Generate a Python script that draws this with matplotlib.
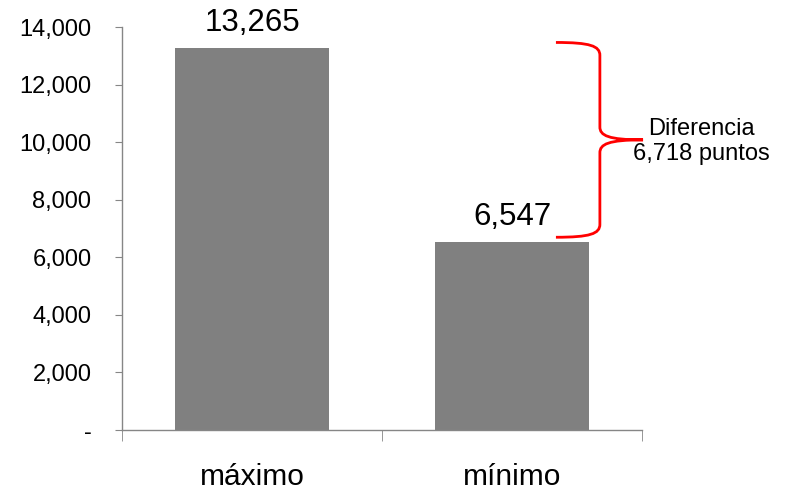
import matplotlib.pyplot as plt
from matplotlib.path import Path
from matplotlib.patches import PathPatch
from matplotlib.ticker import FuncFormatter

plt.rcParams['font.family'] = ['Liberation Sans', 'DejaVu Sans']

categories = ['máximo', 'mínimo']
values = [13265, 6547]
diff_label = 'Diferencia\n6,718 puntos'

fig = plt.figure(figsize=(7.86, 4.92), dpi=100)
ax = fig.add_axes([0.1552, 0.126, 0.6616, 0.819])

x = list(range(len(categories)))
bars = ax.bar(x, values, width=0.59, color='#808080', zorder=2)

ax.set_xlim(-0.5, 1.5)
ax.set_ylim(0, 14000)
ax.set_yticks(range(0, 14001, 2000))
ax.yaxis.set_major_formatter(FuncFormatter(lambda v, p: '-' if v == 0 else f'{int(v):,}'))
ax.tick_params(axis='y', labelsize=17, length=5, color='#868686', pad=17)

ax.set_xticks(x)
ax.set_xticklabels(categories, fontsize=21.5)
ax.tick_params(axis='x', which='major', length=0, pad=24)
ax.set_xticks([-0.5, 0.5, 1.5], minor=True)
ax.tick_params(axis='x', which='minor', length=8, color='#868686')

for s in ['top', 'right']:
    ax.spines[s].set_visible(False)
for s in ['left', 'bottom']:
    ax.spines[s].set_color('#868686')
    ax.spines[s].set_linewidth(1.0)

for b, v in zip(bars, values):
    ax.annotate(f'{v:,}', (b.get_x() + b.get_width() / 2, v), xytext=(0, 7),
                textcoords='offset points', ha='center', va='bottom', fontsize=22.5)

# curly brace between the two bar tops
hi, lo = values[0] + 200, values[1] + 150
mid = (hi + lo) / 2
x0, xv, xt = 1.169, 1.338, 1.504
c = 450
verts = [(x0, hi), (1.30, hi), (xv, hi - 120), (xv, hi - c),
         (xv, mid + c),
         (xv, mid + 150), (1.37, mid), (xt, mid),
         (1.37, mid), (xv, mid - 150), (xv, mid - c),
         (xv, lo + c),
         (xv, lo + 120), (1.30, lo), (x0, lo)]
codes = [Path.MOVETO, Path.CURVE4, Path.CURVE4, Path.CURVE4,
         Path.LINETO,
         Path.CURVE4, Path.CURVE4, Path.CURVE4,
         Path.CURVE4, Path.CURVE4, Path.CURVE4,
         Path.LINETO,
         Path.CURVE4, Path.CURVE4, Path.CURVE4]
ax.add_patch(PathPatch(Path(verts, codes), fill=False, edgecolor='#ff0000',
                       linewidth=2, clip_on=False, zorder=3))
ax.text(1.73, mid - 50, diff_label, ha='center', va='center', fontsize=17,
        linespacing=1.2, clip_on=False)

fig.savefig('out.png', dpi=100)
